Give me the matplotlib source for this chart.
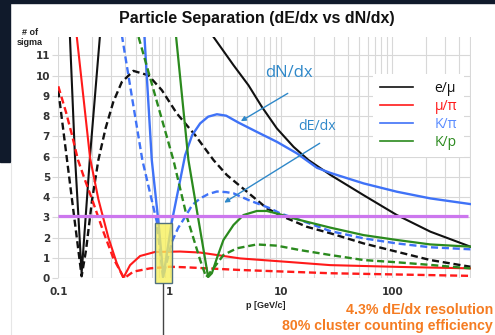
import numpy as np
import matplotlib
matplotlib.use('Agg')
from matplotlib import pyplot as plt
from matplotlib.patches import Rectangle
from matplotlib.lines import Line2D
from matplotlib.ticker import NullFormatter

nan = np.nan

# momentum [GeV/c] and separation [# of sigma]
# e/mu
p_emu_dn = [0.127, 0.141, 0.162, 0.193, 0.237, nan, 2.2, 2.48, 3.75, 5.11, 6.75, 9.2, 13.0, 17.7, 27.8, 55.3, 110, 220, 504]
s_emu_dn = [12.0, 6.07, 0.25, 6.07, 12.0, nan, 12.3, 11.9, 10.51, 9.52, 8.45, 7.39, 6.48, 5.83, 5.1, 4.10, 3.12, 2.30, 1.56]
p_emu_de = [0.1, 0.162, 0.1775, 0.201, 0.229, 0.266, 0.312, 0.372, 0.473, 0.645, 0.851, 1.161, 1.696, 2.48, 3.27, 4.95, 7.48, 10.55, 17.1, 27.8, 55.3, 110, 220, 504]
s_emu_de = [9.27, 0.1, 1.39, 3.86, 5.83, 7.4, 8.7, 9.68, 10.23, 10.01, 9.28, 8.13, 7.06, 5.83, 5.09, 4.27, 3.45, 3.03, 2.54, 2.22, 1.72, 1.31, 0.90, 0.57]

# mu/pi
p_mupi_dn = [0.146, 0.193, 0.229, 0.282, 0.335, 0.384, 0.4415, 0.543, 0.740, 1.243, 1.881, 4.31, 12.1, 27.7, 118, 504]
s_mupi_dn = [12.0, 5.93, 3.9, 2.0, 0.75, 0.02, 0.65, 1.1, 1.3, 1.32, 1.27, 0.98, 0.8, 0.65, 0.56, 0.49]
p_mupi_de = [0.1, 0.1173, 0.1328, 0.1504, 0.1738, 0.1997, 0.254, 0.3123, 0.390, 0.4727, 0.668, 1.01, 1.428, 4.31, 27.7, 504]
s_mupi_de = [9.47, 8.19, 7.06, 5.83, 4.84, 3.94, 2.30, 0.99, 0.0, 0.33, 0.49, 0.57, 0.54, 0.41, 0.25, 0.12]

# K/pi
p_kpi_dn = [0.593, 0.6915, 0.793, 0.879, 1.047, 1.379, 1.594, 1.881, 2.219, 2.659, 3.22, 4.155, 6.08, 9.2, 13.93, 21.07, 27.7, 55.3, 110, 220, 504]
s_kpi_dn = [12.0, 5.83, 2.79, 0.1, 2.79, 6.07, 7.06, 7.64, 7.97, 8.09, 8.02, 7.68, 7.22, 6.73, 6.16, 5.45, 5.2, 4.68, 4.27, 3.94, 3.66]
p_kpi_de = [0.372, 0.460, 0.569, 0.767, 0.872, 1.047, 1.192, 1.379, 1.594, 1.881, 2.219, 2.659, 3.22, 3.75, 5.11, 8.01, 9.86, 14.9, 27.7, 55.3, 110, 220, 504]
s_kpi_de = [12.0, 8.9, 5.83, 2.79, 0.06, 1.80, 2.48, 3.03, 3.61, 3.94, 4.15, 4.28, 4.25, 4.19, 3.86, 3.45, 3.20, 2.87, 2.33, 1.97, 1.72, 1.53, 1.43]

# K/p
p_kp_dn = [1.144, 1.476, 1.805, 2.219, 2.397, 2.659, 3.045, 3.75, 4.61, 6.08, 7.48, 9.86, 14.9, 27.7, 55.3, 110, 220, 504]
s_kp_dn = [11.9, 5.83, 2.97, 0.06, 0.25, 0.99, 1.89, 2.63, 3.12, 3.32, 3.32, 3.15, 2.87, 2.50, 2.13, 1.89, 1.67, 1.56]
p_kp_de = [0.526, 0.756, 1.082, 1.428, 1.881, 2.129, 2.477, 3.045, 4.02, 6.08, 9.2, 14.9, 27.7, 55.3, 110, 220, 504]
s_kp_de = [11.9, 8.85, 5.83, 3.03, 0.90, 0.06, 0.49, 1.15, 1.48, 1.67, 1.61, 1.39, 1.15, 0.90, 0.79, 0.66, 0.49]

three_sigma = 3.07
x_ticks = [0.1, 1, 10, 100]
x_labels = ['0.1', '1', '10', '100']
legend_labels = ['e/\u03bc', '\u03bc/\u03c0', 'K/\u03c0', 'K/p']

black = '#111111'
red = '#ff1a1a'
blue = '#3f72f7'
green = '#2b8a1e'
note = '#2f88c9'
dash = (0, (3, 1.6))

W, H = 495, 335
fig = plt.figure(figsize=(W / 100, H / 100), dpi=100)

# slide background bits
fig.patches.append(Rectangle((0, 1 - 3 / H), 1, 3 / H, transform=fig.transFigure, color='#101a2b'))
fig.patches.append(Rectangle((0, 1 - 161.7 / H), 9.5 / W, 161.7 / H, transform=fig.transFigure, color='#101a2b'))
fig.add_artist(Line2D([11 / W, 11 / W], [0, 1 - 162 / H], color='#e6e6e6', lw=0.8))

ax = fig.add_axes([58.3 / W, 1 - 278.3 / H, 412.7 / W, 241.3 / H])
ax.set_xscale('log')

ax.plot(p_emu_dn, s_emu_dn, color=black, lw=1.5, zorder=3)
ax.plot(p_emu_de, s_emu_de, color=black, lw=1.7, ls=dash, zorder=3)
ax.plot(p_mupi_dn, s_mupi_dn, color=red, lw=1.5, zorder=3)
ax.plot(p_mupi_de, s_mupi_de, color=red, lw=1.7, ls=dash, zorder=3)
ax.plot(p_kpi_dn, s_kpi_dn, color=blue, lw=1.7, zorder=3)
ax.plot(p_kpi_de, s_kpi_de, color=blue, lw=1.7, ls=dash, zorder=3)
ax.plot(p_kp_dn, s_kp_dn, color=green, lw=1.6, zorder=3)
ax.plot(p_kp_de, s_kp_de, color=green, lw=1.7, ls=dash, zorder=3)

ax.hlines(three_sigma, 0.1, 475, color='#cc77ee', lw=2.3, zorder=4)

ax.set_xlim(0.1, 510)
ax.set_ylim(0, 11.9)
ax.set_xticks(x_ticks)
ax.set_xticklabels(x_labels)
ax.xaxis.set_minor_formatter(NullFormatter())
ax.set_yticks(range(12))
ax.grid(True, which='both', axis='x', color='#d8d8d8', lw=0.8, zorder=0)
ax.grid(True, which='major', axis='y', color='#d8d8d8', lw=0.8, zorder=0)
ax.tick_params(axis='x', which='both', length=0, pad=6, labelsize=7.5, labelcolor='#333333')
ax.tick_params(axis='y', length=4, color='#d8d8d8', pad=2, labelsize=7.5, labelcolor='#333333')
for lbl in ax.get_xticklabels() + ax.get_yticklabels():
    lbl.set_fontweight('bold')
for sp in ax.spines.values():
    sp.set_visible(False)

# highlighted region around 1 GeV/c
ax.add_patch(Rectangle((0.741, -0.25), 1.047 - 0.741, 2.96, facecolor=(0.97, 0.94, 0.35, 0.78),
                       edgecolor='#50707f', lw=1, clip_on=False, zorder=6))
fig.add_artist(Line2D([163.3 / W, 163.3 / W], [0, 1 - 284 / H], color='#444444', lw=1))

# arrows
ax.annotate('', xy=(4.155, 7.68), xytext=(12.1, 9.19),
            arrowprops=dict(arrowstyle='-|>', color=note, lw=1, mutation_scale=7), zorder=7)
ax.annotate('', xy=(2.95, 3.66), xytext=(23.4, 6.73),
            arrowprops=dict(arrowstyle='-|>', color=note, lw=1, mutation_scale=7), zorder=7)

handles = [Line2D([], [], color=c, lw=1.2) for c in [black, red, blue, green]]
leg = ax.legend(handles, legend_labels, loc='upper left', bbox_to_anchor=(0.762, 0.845),
                frameon=True, fancybox=False, edgecolor='none', framealpha=1,
                prop={'family': ['Open Sans', 'DejaVu Sans'], 'size': 10},
                handlelength=2.4, handletextpad=1.55, labelspacing=0.2, borderpad=0.5,
                borderaxespad=0)
colors = [black, red, '#5a8cff', green]
for t, c in zip(leg.get_texts(), colors):
    t.set_color(c)
leg.set_zorder(5)

fig.text(256.8 / W, 1 - 18 / H, 'Particle Separation (dE/dx vs dN/dx)', ha='center', va='center',
         fontsize=11.5, fontweight='bold', family='Liberation Sans', color='#111111')
fig.text(30 / W, 1 - 37.5 / H, '# of\nsigma', ha='center', va='center', fontsize=6.5,
         fontweight='bold', family='Liberation Sans', color='#222222', linespacing=1.1)
fig.text(265.5 / W, 1 - 306 / H, 'p [GeV/c]', ha='center', va='center', fontsize=6.5,
         fontweight='bold', family='Liberation Sans', color='#222222')
fig.text(289 / W, 1 - 73.3 / H, 'dN/dx', ha='center', va='center', fontsize=12,
         family='Open Sans', color=note)
fig.text(317.5 / W, 1 - 126 / H, 'dE/dx', ha='center', va='center', fontsize=10.2,
         family='Open Sans', color=note)
fig.text(493 / W, 1 - 310 / H, '4.3% dE/dx resolution', ha='right', va='center', fontsize=10.2,
         fontweight='bold', family='Liberation Sans', color='#f57c22')
fig.text(493 / W, 1 - 325.7 / H, '80% cluster counting efficiency', ha='right', va='center',
         fontsize=10.2, fontweight='bold', family='Liberation Sans', color='#f57c22')

plt.savefig('out.png', dpi=100)
